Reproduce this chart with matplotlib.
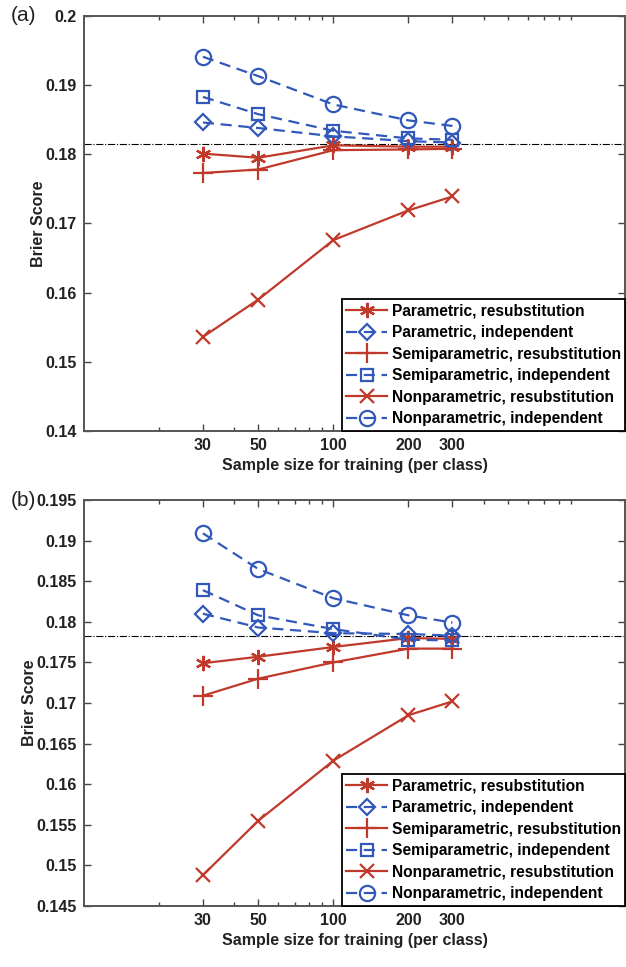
import matplotlib.pyplot as plt
import numpy as np
from matplotlib.ticker import FixedLocator, LogLocator, NullFormatter

plt.rcParams['font.family'] = ['Liberation Sans', 'DejaVu Sans']

sizes = [30, 50, 100, 200, 300]
labels = ['Parametric, resubstitution', 'Parametric, independent',
          'Semiparametric, resubstitution', 'Semiparametric, independent',
          'Nonparametric, resubstitution', 'Nonparametric, independent']

# panel (a)
a_par_resub = [0.1801, 0.1795, 0.1813, 0.1811, 0.1811]
a_par_indep = [0.1846, 0.1838, 0.1826, 0.1819, 0.1817]
a_semi_resub = [0.1773, 0.1778, 0.1806, 0.1807, 0.1808]
a_semi_indep = [0.1883, 0.1858, 0.1834, 0.1823, 0.1821]
a_non_resub = [0.1536, 0.1590, 0.1676, 0.1719, 0.1739]
a_non_indep = [0.1941, 0.1913, 0.1872, 0.1849, 0.1841]
a_ref = 0.1815
a_yticks = [0.14, 0.15, 0.16, 0.17, 0.18, 0.19, 0.2]

# panel (b)
b_par_resub = [0.1749, 0.1757, 0.1769, 0.1780, 0.1779]
b_par_indep = [0.1810, 0.1793, 0.1786, 0.1785, 0.1783]
b_semi_resub = [0.1709, 0.1730, 0.1750, 0.1767, 0.1767]
b_semi_indep = [0.1839, 0.1808, 0.1791, 0.1778, 0.1777]
b_non_resub = [0.1488, 0.1555, 0.1629, 0.1685, 0.1702]
b_non_indep = [0.1909, 0.1865, 0.1829, 0.1808, 0.1799]
b_ref = 0.1783
b_yticks = [0.145, 0.15, 0.155, 0.16, 0.165, 0.17, 0.175, 0.18, 0.185, 0.19, 0.195]

red = '#C0392B'
blue = '#3158BA'
styles = [
    dict(color=red, ls='-', marker=(6, 2, 0), ms=11),
    dict(color=blue, ls=(0, (5, 3)), marker='D', ms=8),
    dict(color=red, ls='-', marker='+', ms=14),
    dict(color=blue, ls=(0, (5, 3)), marker='s', ms=9),
    dict(color=red, ls='-', marker='x', ms=10),
    dict(color=blue, ls=(0, (5, 3)), marker='o', ms=11),
]

fig = plt.figure(figsize=(6.26, 9.67), dpi=100)


def draw(ax, series, ref, yticks, tag):
    for vals, st, lab in zip(series, styles, labels):
        ax.plot(sizes, vals, color=st['color'], ls=st['ls'], lw=1.6,
                marker=st['marker'], ms=st['ms'], mfc='none', mec=st['color'],
                mew=1.6, label=lab)
    ax.axhline(ref, color='black', ls='-.', lw=0.8, zorder=0)
    ax.set_xscale('log')
    ax.set_xlim(10, 1480)
    ax.set_ylim(yticks[0], yticks[-1])
    ax.xaxis.set_major_locator(FixedLocator(sizes))
    ax.xaxis.set_minor_locator(LogLocator(base=10, subs=np.arange(2, 10)))
    ax.xaxis.set_minor_formatter(NullFormatter())
    ax.set_xticks(sizes)
    ax.set_xticklabels([str(s) for s in sizes])
    ax.set_yticks(yticks)
    ax.set_yticklabels([f'{v:g}' for v in yticks])
    ax.tick_params(which='both', direction='in', top=True, right=True,
                   color='#444444', labelsize=11.5, labelcolor='#222222')
    ax.tick_params(which='major', length=5, width=1, pad=5)
    ax.tick_params(which='minor', length=3, width=1)
    for lbl in ax.get_xticklabels() + ax.get_yticklabels():
        lbl.set_fontweight('bold')
    for sp in ax.spines.values():
        sp.set_color('#555555')
        sp.set_linewidth(1.4)
    ax.set_xlabel('Sample size for training (per class)', fontsize=11.5,
                  fontweight='bold', color='#222222', labelpad=4)
    ax.set_ylabel('Brier Score', fontsize=11.5, fontweight='bold',
                  color='#222222', labelpad=0)
    leg = ax.legend(loc='lower right', borderaxespad=0, fancybox=False,
                    framealpha=1, edgecolor='black', handlelength=2.6,
                    handletextpad=0.3, labelspacing=0.42, borderpad=0.3,
                    prop={'weight': 'bold', 'size': 11.2})
    leg.get_frame().set_linewidth(1.3)
    ax.text(-0.135, 1.0, tag, transform=ax.transAxes, fontsize=15,
            ha='left', va='center', color='#222222')


ax1 = fig.add_axes([0.134, 0.5543, 0.865, 0.4292])
draw(ax1, [a_par_resub, a_par_indep, a_semi_resub, a_semi_indep, a_non_resub, a_non_indep],
     a_ref, a_yticks, '(a)')

ax2 = fig.add_axes([0.134, 0.0631, 0.865, 0.4198])
draw(ax2, [b_par_resub, b_par_indep, b_semi_resub, b_semi_indep, b_non_resub, b_non_indep],
     b_ref, b_yticks, '(b)')

fig.savefig('out.png', dpi=100)
